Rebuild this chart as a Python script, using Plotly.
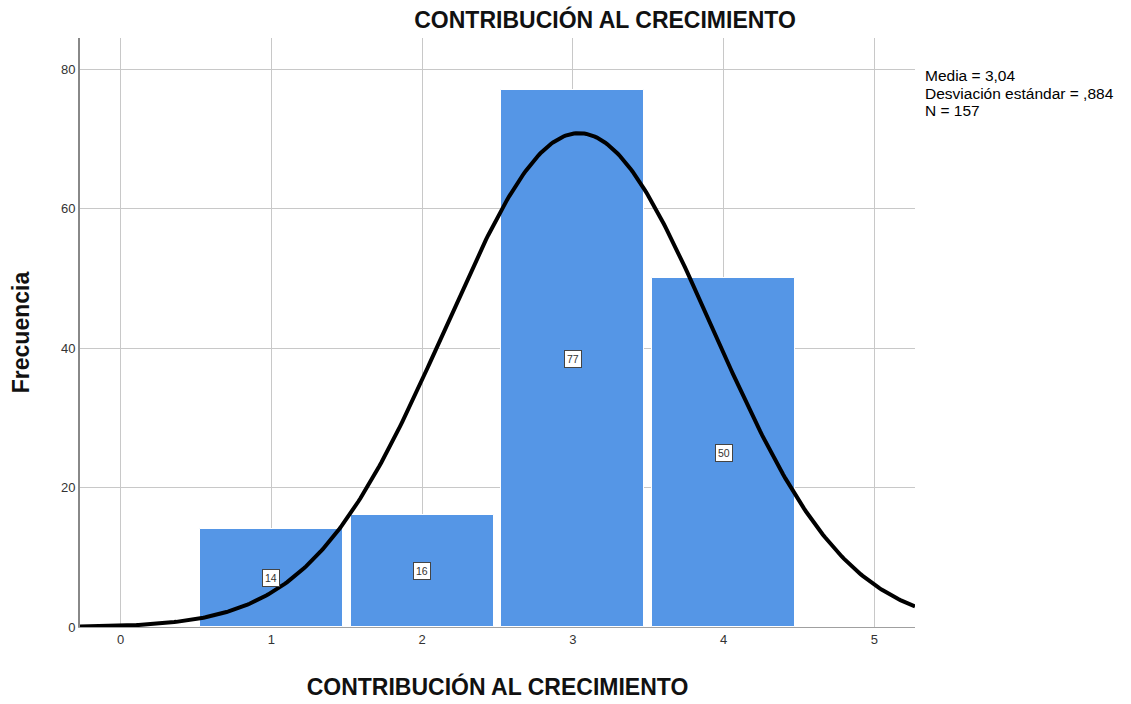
import plotly.graph_objs as go
import numpy as np

# datos del histograma
categorias = [1, 2, 3, 4]
frecuencias = [14, 16, 77, 50]
media = 3.04
desv = 0.884
n_total = 157
x_ticks = [0, 1, 2, 3, 4, 5]
y_ticks = [0, 20, 40, 60, 80]
estadisticos = ["Media = 3,04", "Desviación estándar = ,884", "N = 157"]

x_min, x_max = -0.27, 5.27

fig = go.Figure()

# barras
fig.add_trace(go.Bar(x=categorias, y=frecuencias, width=0.95,
                     marker=dict(color="#5596E6", line=dict(color="white", width=1)),
                     showlegend=False, hoverinfo="x+y"))

# curva normal (a partir de media, desviación y N)
xs = np.linspace(x_min, x_max, 400)
ys = n_total / (desv * np.sqrt(2 * np.pi)) * np.exp(-0.5 * ((xs - media) / desv) ** 2)
fig.add_trace(go.Scatter(x=xs, y=ys, mode="lines", line=dict(color="black", width=4),
                         showlegend=False, hoverinfo="skip"))

# etiquetas de las barras
for c, f in zip(categorias, frecuencias):
    fig.add_annotation(x=c, y=f / 2, text=str(f), showarrow=False,
                       font=dict(size=10.5, color="#333333", family="Liberation Sans"),
                       bgcolor="white", bordercolor="#444444", borderwidth=1, borderpad=2)

# estadísticos (una línea por anotación para un interlineado más ajustado)
for i, linea in enumerate(estadisticos):
    fig.add_annotation(xref="paper", yref="paper", x=1.01, y=0.9355 - i * 0.0289,
                       xanchor="left", yanchor="middle", text=linea,
                       showarrow=False, align="left",
                       font=dict(size=15.5, color="black", family="Liberation Sans"))

fig.update_layout(
    width=1131, height=704,
    margin=dict(l=80, r=216, t=38, b=77),
    plot_bgcolor="white", paper_bgcolor="white",
    font=dict(family="Liberation Sans", color="#222222"),
    title=dict(text="<b>CONTRIBUCIÓN AL CRECIMIENTO</b>", x=0.535, xanchor="center",
               y=0.972, yanchor="middle", font=dict(size=23, color="#111111")),
    bargap=0,
    xaxis=dict(range=[x_min, x_max], tickvals=x_ticks, showgrid=True, gridcolor="#C8C8C8",
               gridwidth=1, zeroline=False, showline=True, linecolor="#A0A0A0", linewidth=1,
               ticks="", tickfont=dict(size=13, color="#333333"), automargin=False,
               title=dict(text="<b>CONTRIBUCIÓN AL CRECIMIENTO</b>", standoff=33,
                          font=dict(size=23, color="#111111"))),
    yaxis=dict(range=[0, 84.5], tickvals=y_ticks, showgrid=True, gridcolor="#C8C8C8",
               gridwidth=1, zeroline=False, showline=True, linecolor="#888888", linewidth=2,
               ticks="", tickfont=dict(size=13, color="#333333"), automargin=False,
               title=dict(text="<b>Frecuencia</b>", standoff=25,
                          font=dict(size=23, color="#111111"))),
)

fig.write_html("out.html", config={"displayModeBar": False},
               post_script="document.body.style.margin='0';")
